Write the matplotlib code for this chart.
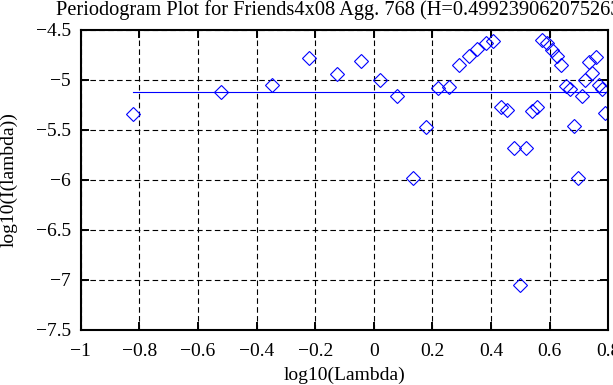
import matplotlib
matplotlib.use('Agg')
import matplotlib.pyplot as plt
from matplotlib.ticker import FuncFormatter

# log10(Lambda) und log10(I(lambda))
log_lambda = [-0.823, -0.522, -0.346, -0.221, -0.124, -0.045, 0.022, 0.080,
              0.132, 0.177, 0.219, 0.257, 0.291, 0.324, 0.353, 0.382,
              0.408, 0.433, 0.456, 0.478, 0.500, 0.520, 0.539, 0.558,
              0.575, 0.592, 0.609, 0.625, 0.640, 0.655, 0.669, 0.683,
              0.696, 0.709, 0.722, 0.734, 0.746, 0.757, 0.769, 0.780,
              0.790]
log_I = [-5.34, -5.12, -5.05, -4.78, -4.94, -4.81, -5.00, -5.16,
         -5.98, -5.47, -5.08, -5.07, -4.85, -4.76, -4.69, -4.63,
         -4.61, -5.27, -5.30, -5.68, -7.05, -5.68, -5.31, -5.27,
         -4.60, -4.63, -4.70, -4.76, -4.85, -5.06, -5.09, -5.46,
         -5.98, -5.16, -5.00, -4.82, -4.93, -4.77, -5.05, -5.09,
         -5.33]
fit_x = [-0.823, 0.790]
fit_y = [-5.123, -5.123]

titel = 'Periodogram Plot for Friends4x08 Agg. 768 (H=0.4992390620752635)'

plt.rcParams['font.family'] = ['Liberation Serif', 'DejaVu Serif']
plt.rcParams['font.size'] = 14

fig = plt.figure(figsize=(6.13, 3.85), dpi=100)
W, H = 613, 385
ax = fig.add_axes([80.7 / W, 1 - 330 / H, (608.3 - 80.7) / W, 300 / H])

ax.plot(log_lambda, log_I, linestyle='none', marker='D', markersize=7.6,
        markerfacecolor='none', markeredgecolor='#0000ff', markeredgewidth=0.8)
ax.plot(fit_x, fit_y, color='#0000ff', linewidth=0.8)

ax.set_xlim(-1, 0.8)
ax.set_ylim(-7.5, -4.5)
ax.set_xticks([-1, -0.8, -0.6, -0.4, -0.2, 0, 0.2, 0.4, 0.6, 0.8])
ax.set_yticks([-7.5, -7, -6.5, -6, -5.5, -5, -4.5])
fmt = FuncFormatter(lambda v, p: ('%g' % v).replace('-', '\u2212'))
ax.xaxis.set_major_formatter(fmt)
ax.yaxis.set_major_formatter(fmt)

ax.grid(True, color='black', linestyle=(0, (5, 3)), linewidth=0.8)
ax.tick_params(direction='in', length=6, width=1.4, top=True, right=True)
ax.tick_params(axis='x', pad=9)
ax.tick_params(axis='y', pad=7)
for s in ax.spines.values():
    s.set_linewidth(1.5)

ax.set_xlabel('log10(Lambda)', labelpad=5)
ax.set_ylabel('log10(I(lambda))', labelpad=13)
fig.text(56 / W, 1 - 10 / H, titel, ha='left', va='center', fontsize=14.7)

fig.savefig('out.png', dpi=100)
